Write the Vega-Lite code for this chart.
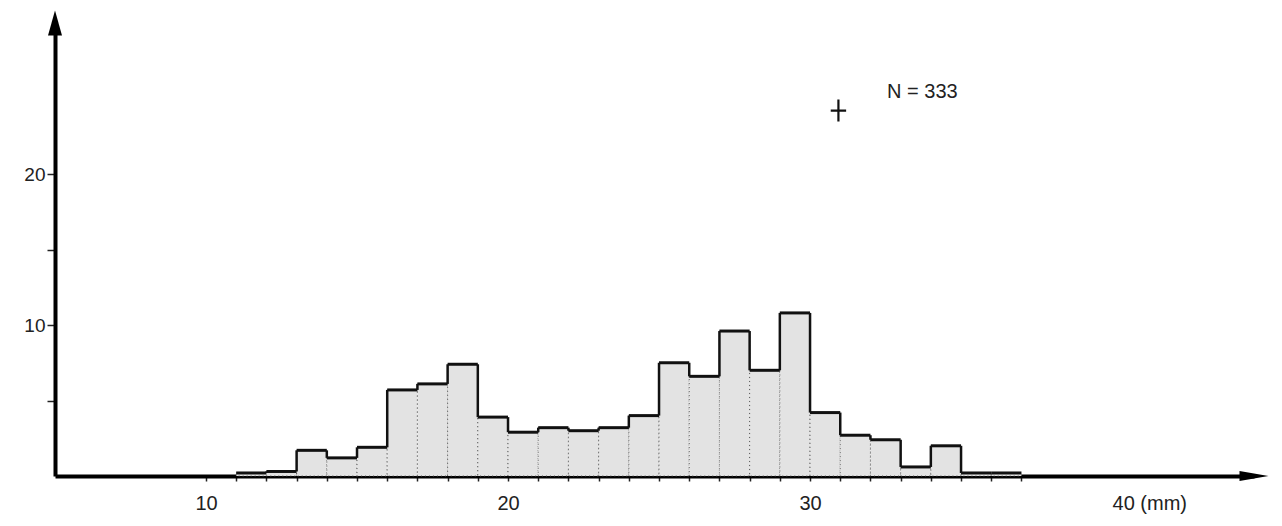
{
  "$schema": "https://vega.github.io/schema/vega-lite/v6.json",
  "width": 1199,
  "height": 453,
  "autosize": "none",
  "padding": {"left": 55, "top": 23, "right": 28, "bottom": 50},
  "background": "white",
  "config": {"view": {"stroke": null}, "font": "Liberation Sans"},
  "datasets": {
    "bins": [
      {"lo": 11, "hi": 12, "pct": 0.2},
      {"lo": 12, "hi": 13, "pct": 0.3},
      {"lo": 13, "hi": 14, "pct": 1.7},
      {"lo": 14, "hi": 15, "pct": 1.2},
      {"lo": 15, "hi": 16, "pct": 1.9},
      {"lo": 16, "hi": 17, "pct": 5.7},
      {"lo": 17, "hi": 18, "pct": 6.1},
      {"lo": 18, "hi": 19, "pct": 7.4},
      {"lo": 19, "hi": 20, "pct": 3.9},
      {"lo": 20, "hi": 21, "pct": 2.9},
      {"lo": 21, "hi": 22, "pct": 3.2},
      {"lo": 22, "hi": 23, "pct": 3.0},
      {"lo": 23, "hi": 24, "pct": 3.2},
      {"lo": 24, "hi": 25, "pct": 4.0},
      {"lo": 25, "hi": 26, "pct": 7.5},
      {"lo": 26, "hi": 27, "pct": 6.6},
      {"lo": 27, "hi": 28, "pct": 9.6},
      {"lo": 28, "hi": 29, "pct": 7.0},
      {"lo": 29, "hi": 30, "pct": 10.8},
      {"lo": 30, "hi": 31, "pct": 4.2},
      {"lo": 31, "hi": 32, "pct": 2.7},
      {"lo": 32, "hi": 33, "pct": 2.4},
      {"lo": 33, "hi": 34, "pct": 0.6},
      {"lo": 34, "hi": 35, "pct": 2.0},
      {"lo": 35, "hi": 36, "pct": 0.2},
      {"lo": 36, "hi": 37, "pct": 0.2}
    ],
    "notes": [{"x": 32.55, "y": 25.4, "text": "N = 333"}],
    "cross": [{"x": 30.94, "y": 24.2}],
    "yArrow": [{"x": 5, "y": 30}],
    "xArrow": [{"x": 44.7, "y": 0}]
  },
  "layer": [
    {
      "data": {"name": "bins"},
      "mark": {"type": "rect", "fill": "#e3e3e3", "stroke": "#555", "strokeWidth": 1, "strokeDash": [1, 3]},
      "encoding": {
        "x": {
          "field": "lo", "type": "quantitative",
          "scale": {"domain": [5, 44.7], "nice": false, "zero": false},
          "axis": {
            "title": null, "grid": false,
            "values": [10, 11, 12, 13, 14, 15, 16, 17, 18, 19, 20, 21, 22, 23, 24, 25, 26, 27, 28, 29, 30, 31, 32, 33, 34, 35, 36, 37, 40],
            "labelExpr": "datum.value == 40 ? '40 (mm)' : (datum.value % 10 == 0 ? datum.label : '')",
            "labelAlign": {"condition": {"test": "datum.value == 40", "value": "left"}, "value": "center"},
            "tickOpacity": {"condition": {"test": "datum.value == 40", "value": 0}, "value": 1},
            "domainColor": "#000", "domainWidth": 4,
            "tickColor": "#222", "tickSize": 5, "tickWidth": 1.5,
            "labelFontSize": 20, "labelColor": "#222", "labelPadding": 12,
            "labelFlush": false, "labelOverlap": false
          }
        },
        "x2": {"field": "hi"},
        "y": {
          "field": "pct", "type": "quantitative",
          "scale": {"domain": [0, 30], "nice": false},
          "axis": {
            "title": null, "grid": false,
            "values": [5, 10, 15, 20],
            "labelExpr": "datum.value % 10 == 0 ? datum.label : ''",
            "domainColor": "#000", "domainWidth": 4,
            "tickColor": "#222", "tickSize": 8, "tickWidth": 1.5,
            "labelFontSize": 19, "labelColor": "#222", "labelPadding": 2
          }
        },
        "y2": {"datum": 0}
      }
    },
    {
      "data": {"name": "bins"},
      "mark": {"type": "rule", "color": "#111", "strokeWidth": 3},
      "encoding": {
        "x": {"field": "lo", "type": "quantitative", "axis": {"title": null}},
        "x2": {"field": "hi"},
        "y": {"field": "pct", "type": "quantitative", "axis": {"title": null}}
      }
    },
    {
      "data": {"name": "bins"},
      "transform": [
        {"window": [{"op": "lag", "field": "pct", "as": "prev"}], "sort": [{"field": "lo"}]}
      ],
      "mark": {"type": "rule", "color": "#111", "strokeWidth": 2.5},
      "encoding": {
        "x": {"field": "lo", "type": "quantitative", "axis": {"title": null}},
        "y": {"field": "pct", "type": "quantitative", "axis": {"title": null}},
        "y2": {"field": "prev"}
      }
    },
    {
      "data": {"name": "yArrow"},
      "mark": {"type": "point", "shape": "M0,-1L0.56,1L-0.56,1Z", "size": 625, "filled": true, "color": "#000", "opacity": 1},
      "encoding": {
        "x": {"field": "x", "type": "quantitative", "axis": {"title": null}},
        "y": {"field": "y", "type": "quantitative", "axis": {"title": null}}
      }
    },
    {
      "data": {"name": "xArrow"},
      "mark": {"type": "point", "shape": "M1,0L-1,-0.35L-1,0.35Z", "size": 841, "filled": true, "color": "#000", "opacity": 1},
      "encoding": {
        "x": {"field": "x", "type": "quantitative", "axis": {"title": null}},
        "y": {"field": "y", "type": "quantitative", "axis": {"title": null}}
      }
    },
    {
      "data": {"name": "cross"},
      "mark": {"type": "point", "shape": "M-0.7,0L0.7,0M0,-1L0,1", "size": 484, "filled": false, "stroke": "#111", "strokeWidth": 2.2, "opacity": 1},
      "encoding": {
        "x": {"field": "x", "type": "quantitative", "axis": {"title": null}},
        "y": {"field": "y", "type": "quantitative", "axis": {"title": null}}
      }
    },
    {
      "data": {"name": "notes"},
      "mark": {"type": "text", "align": "left", "baseline": "middle", "fontSize": 20, "color": "#222"},
      "encoding": {
        "x": {"field": "x", "type": "quantitative", "axis": {"title": null}},
        "y": {"field": "y", "type": "quantitative", "axis": {"title": null}},
        "text": {"field": "text"}
      }
    }
  ]
}
